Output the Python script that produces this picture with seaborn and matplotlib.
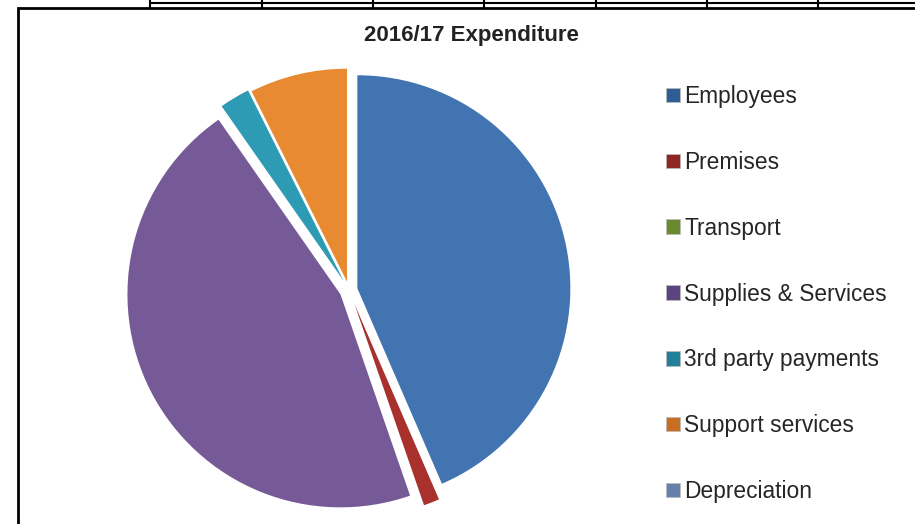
import matplotlib
matplotlib.use("Agg")
import matplotlib.pyplot as plt
import seaborn as sns
from matplotlib.patches import Rectangle
from matplotlib.lines import Line2D

categories = ["Employees", "Premises", "Transport", "Supplies & Services",
              "3rd party payments", "Support services", "Depreciation"]
values = [43.5, 1.2, 0.0, 45.6, 2.3, 7.4, 0.0]
hex_colors = ["#4174B0", "#A8302D", "#7E9C3C", "#765A98", "#2E9BB4", "#E88A32", "#7C93BC"]
legend_colors = ["#2F5E97", "#8E2623", "#6A8A30", "#5B4580", "#23809A", "#C76E22", "#6680AC"]
title = "2016/17 Expenditure"

sns.set_theme(style="white")
plt.rcParams['font.family'] = ['Liberation Sans', 'DejaVu Sans']
palette = sns.color_palette(hex_colors)

fig = plt.figure(figsize=(9.15, 5.24), dpi=100)
W, H = 915, 524

# frame of the chart box
fig.patches.append(Rectangle((18 / W, -0.01), 1.0, (524 - 8) / H + 0.01,
                             transform=fig.transFigure, fill=False,
                             edgecolor="black", linewidth=2.0))
# fragments of the surrounding table
fig.add_artist(Line2D([150 / W, 1.0], [1 - 3 / H, 1 - 3 / H], color="black", lw=1.5))
for x in [150, 262, 373, 484, 596, 707, 818]:
    fig.add_artist(Line2D([x / W, x / W], [1 - 8 / H, 1.0], color="black", lw=1.5))

R = 213
cx, cy = 349, 290
span = 1.12
wpx = 2 * span * R
ax = fig.add_axes([(cx - wpx / 2) / W, (H - cy - wpx / 2) / H, wpx / W, wpx / H])
explode = [0.04, 0.07, 0.05, 0.045, 0.05, 0.04, 0.04]
wedges, _ = ax.pie(values, colors=palette, startangle=90, counterclock=False,
                   explode=explode, radius=1.0,
                   wedgeprops=dict(edgecolor="white", linewidth=0.0))
ax.set_xlim(-span, span)
ax.set_ylim(-span, span)
ax.set_aspect("equal")
ax.axis("off")

fig.text(471 / W, 1 - 35 / H, title, ha="center", va="center",
         fontsize=16, fontweight="bold", color="#222222")

handles = [Rectangle((0, 0), 1, 1, facecolor=c, edgecolor="#bbbbbb", linewidth=0.5)
           for c in legend_colors]
fig.legend(handles, categories, loc="upper left", bbox_to_anchor=(657 / W, 1 - 76 / H),
           frameon=False, fontsize=16.4, handlelength=0.6, handleheight=0.6,
           handletextpad=0.2, labelspacing=1.88, borderaxespad=0)

fig.savefig("out.png", dpi=100)
